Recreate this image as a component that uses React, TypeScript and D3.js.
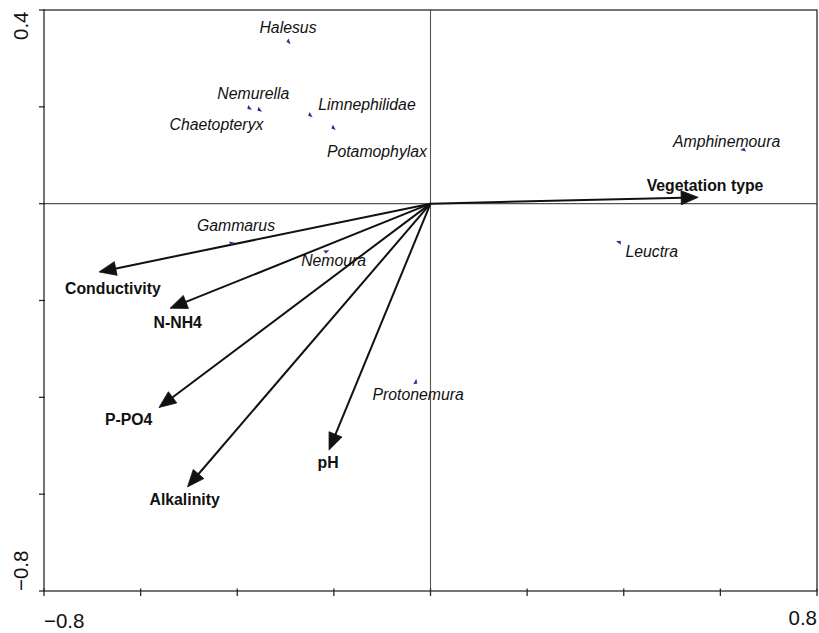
import React from "react";
import * as d3 from "d3";

// Species scores (first two ordination axes)
const speciesNames = [
  "Halesus",
  "Nemurella",
  "Chaetopteryx",
  "Limnephilidae",
  "Potamophylax",
  "Amphinemoura",
  "Gammarus",
  "Nemoura",
  "Leuctra",
  "Protonemura",
];
const speciesX = [-0.294, -0.375, -0.354, -0.249, -0.201, 0.647, -0.411, -0.215, 0.39, -0.03];
const speciesY = [0.334, 0.197, 0.193, 0.182, 0.156, 0.112, -0.082, -0.099, -0.079, -0.368];

// Environmental variable vectors
const envNames = ["Vegetation type", "Conductivity", "N-NH4", "P-PO4", "Alkalinity", "pH"];
const envX = [0.554, -0.686, -0.539, -0.562, -0.503, -0.21];
const envY = [0.013, -0.141, -0.216, -0.421, -0.585, -0.509];

// Axis extents and tick values
const xDomain = [-0.8, 0.8];
const yDomain = [-0.8, 0.4];
const xTicks = [-0.8, -0.6, -0.4, -0.2, 0, 0.2, 0.4, 0.6, 0.8];
const yTicks = [-0.8, -0.6, -0.4, -0.2, 0, 0.2, 0.4];
const xTickLabels = ["\u22120.8", "0.8"];
const yTickLabels = ["0.4", "\u22120.8"];

// Label placement, in pixels from each mark
const speciesLabelOffset: Record<string, [number, number]> = {
  Halesus: [-29, -9],
  Nemurella: [-32, -9],
  Chaetopteryx: [-90, 20],
  Limnephilidae: [8, -6],
  Potamophylax: [-6.5, 28.5],
  Amphinemoura: [-70, -2],
  Gammarus: [-35, -12.5],
  Nemoura: [-25.5, 14.5],
  Leuctra: [6.5, 15.5],
  Protonemura: [-43.5, 18.5],
};
const envLabelOffset: Record<string, [number, number]> = {
  "Vegetation type": [-51.5, -6.5],
  Conductivity: [-34, 22.5],
  "N-NH4": [-16.5, 20],
  "P-PO4": [-54, 17.5],
  Alkalinity: [-38, 18.5],
  pH: [-11.5, 17.5],
};

const W = 819;
const H = 633;
const left = 44;
const right = 817;
const top = 10;
const bottom = 591;
const FONT = "'Liberation Sans', Arial, Helvetica, sans-serif";

export default function App() {
  const x = d3.scaleLinear().domain(xDomain).range([left, right]);
  const y = d3.scaleLinear().domain(yDomain).range([bottom, top]);
  const ox = x(0);
  const oy = y(0);

  const headLen = 17;
  const headHalf = 7;

  const arrows = envNames.map((name, i) => {
    const tx = x(envX[i]);
    const ty = y(envY[i]);
    const ang = Math.atan2(ty - oy, tx - ox);
    const c = Math.cos(ang);
    const s = Math.sin(ang);
    const bx = tx - c * headLen;
    const by = ty - s * headLen;
    const head = [
      [tx, ty],
      [bx - s * headHalf, by + c * headHalf],
      [bx + s * headHalf, by - c * headHalf],
    ];
    const [dx, dy] = envLabelOffset[name];
    return { name, tx, ty, bx: bx + c * 2, by: by + s * 2, head, lx: tx + dx, ly: ty + dy };
  });

  const species = speciesNames.map((name, i) => {
    const px = x(speciesX[i]);
    const py = y(speciesY[i]);
    // small triangle pointing towards the origin
    const ang = Math.atan2(oy - py, ox - px);
    const [dx, dy] = speciesLabelOffset[name];
    return { name, px, py, rot: (ang * 180) / Math.PI, lx: px + dx, ly: py + dy };
  });

  const line = d3.line();

  return (
    <svg
      width={W}
      height={H}
      style={{ position: "absolute", left: 0, top: 0, background: "#fff" }}
      fontFamily={FONT}
    >
      <rect x={0} y={0} width={W} height={H} fill="#fff" />

      {/* zero lines */}
      <line x1={left} x2={right} y1={oy} y2={oy} stroke="#555" strokeWidth={1.1} />
      <line x1={ox} x2={ox} y1={top} y2={bottom} stroke="#555" strokeWidth={1.1} />

      {/* frame */}
      <rect
        x={left}
        y={top}
        width={right - left}
        height={bottom - top}
        fill="none"
        stroke="#2a2a2a"
        strokeWidth={1.3}
      />

      {/* ticks */}
      {xTicks.map((t) => (
        <line key={"xt" + t} x1={x(t)} x2={x(t)} y1={bottom - 2.5} y2={bottom + 5} stroke="#2a2a2a" strokeWidth={1.3} />
      ))}
      {yTicks.map((t) => (
        <line key={"yt" + t} x1={left - 5} x2={left + 1} y1={y(t)} y2={y(t)} stroke="#2a2a2a" strokeWidth={1.3} />
      ))}

      {/* tick labels at the axis ends */}
      <text x={x(xDomain[0])} y={628} fontSize={20.5} fill="#111" textAnchor="start">
        {xTickLabels[0]}
      </text>
      <text x={x(xDomain[1])} y={624.5} fontSize={20.5} fill="#111" textAnchor="end">
        {xTickLabels[1]}
      </text>
      <text
        transform={`translate(28,${y(yDomain[1]) + 1.5}) rotate(-90)`}
        fontSize={20.5}
        fill="#111"
        textAnchor="end"
      >
        {yTickLabels[0]}
      </text>
      <text
        transform={`translate(28,${y(yDomain[0])}) rotate(-90)`}
        fontSize={20.5}
        fill="#111"
        textAnchor="start"
      >
        {yTickLabels[1]}
      </text>

      {/* environmental arrows */}
      {arrows.map((a) => (
        <g key={a.name}>
          <line x1={ox} y1={oy} x2={a.bx} y2={a.by} stroke="#111" strokeWidth={2} />
          <path d={line(a.head as [number, number][]) + "Z"} fill="#111" stroke="#111" strokeWidth={0.8} strokeLinejoin="miter" />
          <text x={a.lx} y={a.ly} fontSize={15.8} fontWeight="bold" fill="#111">
            {a.name}
          </text>
        </g>
      ))}

      {/* species */}
      {species.map((s) => (
        <g key={s.name}>
          <path
            d="M3,0 L-2.5,-2.5 L-1.5,1.5 Z"
            transform={`translate(${s.px},${s.py}) rotate(${s.rot})`}
            fill="#2e2e8f"
          />
          <text x={s.lx} y={s.ly} fontSize={15.8} fontStyle="italic" fill="#111">
            {s.name}
          </text>
        </g>
      ))}
    </svg>
  );
}
